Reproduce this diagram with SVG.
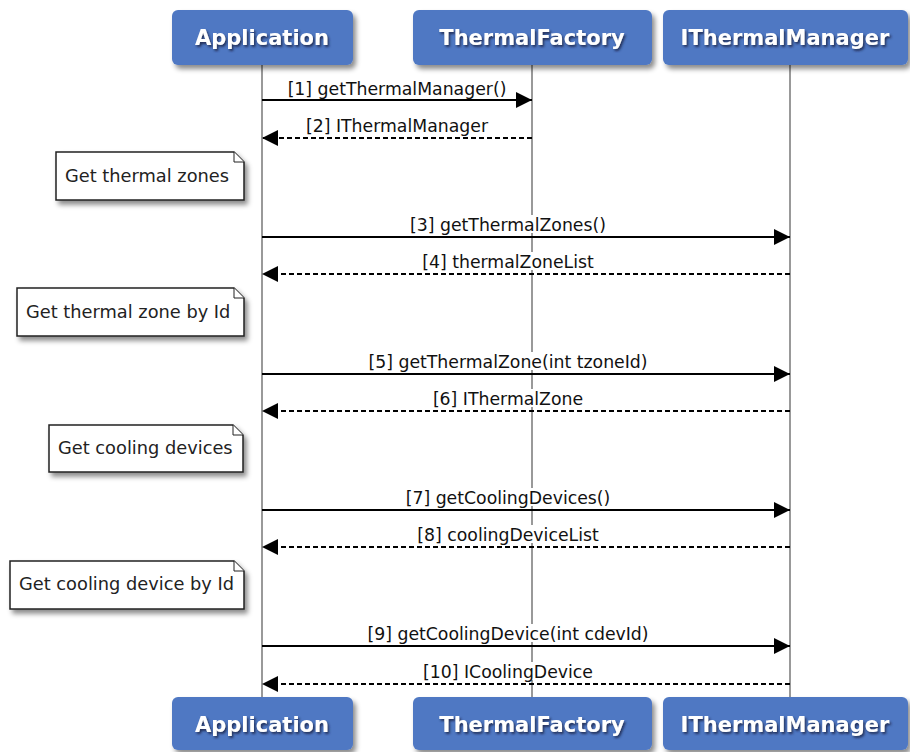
<svg xmlns="http://www.w3.org/2000/svg" width="910" height="752" viewBox="0 0 910 752">
<defs>
<filter id="sh" x="-10%" y="-10%" width="130%" height="140%"><feDropShadow dx="3" dy="4" stdDeviation="2.5" flood-color="#000" flood-opacity="0.45"/></filter>
<filter id="tsh" x="-10%" y="-30%" width="120%" height="170%"><feDropShadow dx="1.5" dy="2" stdDeviation="1.2" flood-color="#1a2a50" flood-opacity="0.9"/></filter>
<marker id="ah" markerWidth="16" markerHeight="16" viewBox="0 0 16 16" refX="16" refY="8" orient="auto" markerUnits="userSpaceOnUse"><path d="M0,0 L16,8 L0,16 Z" fill="#000"/></marker>
</defs>
<style>
.box{fill:#4f78c3;filter:url(#sh)}
.ht{font-family:"DejaVu Sans",sans-serif;font-weight:bold;font-size:21px;fill:#fff;text-anchor:middle;filter:url(#tsh)}
.life{stroke:#999;stroke-width:2}
.msg{stroke:#000;stroke-width:2;fill:none;marker-end:url(#ah)}
.ret{stroke:#000;stroke-width:2;fill:none;stroke-dasharray:5,3;marker-end:url(#ah)}
.lbl{font-family:"DejaVu Sans",sans-serif;font-size:17.3px;fill:#111;text-anchor:middle}
.bg{fill:#fff}
.note{fill:#fff;stroke:#222;stroke-width:1.5;filter:url(#sh)}
.ear{fill:#fff;stroke:#222;stroke-width:1}
.nt{font-family:"DejaVu Sans",sans-serif;font-size:17.8px;fill:#222}
</style>
<rect width="910" height="752" fill="#fff"/>
<g id="lifelines">
<line class="life" x1="262" y1="65" x2="262" y2="697"/>
<line class="life" x1="532" y1="65" x2="532" y2="697"/>
<line class="life" x1="790" y1="65" x2="790" y2="697"/>
</g>
<g id="app-top"><rect class="box" x="172" y="10" width="181" height="55" rx="6"/><text class="ht" x="262" y="45">Application</text></g>
<g id="tf-top"><rect class="box" x="413" y="10" width="239" height="55" rx="6"/><text class="ht" x="532" y="45">ThermalFactory</text></g>
<g id="itm-top"><rect class="box" x="663" y="10" width="245" height="55" rx="6"/><text class="ht" x="785" y="45">IThermalManager</text></g>
<g id="app-bot"><rect class="box" x="172" y="697" width="181" height="53" rx="6"/><text class="ht" x="262" y="732">Application</text></g>
<g id="tf-bot"><rect class="box" x="413" y="697" width="239" height="53" rx="6"/><text class="ht" x="532" y="732">ThermalFactory</text></g>
<g id="itm-bot"><rect class="box" x="663" y="697" width="245" height="53" rx="6"/><text class="ht" x="785" y="732">IThermalManager</text></g>
<g id="note1"><path class="note" d="M56,152 H234 L244,162 V200 H56 Z"/><path class="ear" d="M234,152 V162 H244"/><text class="nt" x="65" y="182">Get thermal zones</text></g>
<g id="note2"><path class="note" d="M17,288 H234 L244,298 V336 H17 Z"/><path class="ear" d="M234,288 V298 H244"/><text class="nt" x="26" y="318">Get thermal zone by Id</text></g>
<g id="note3"><path class="note" d="M49,425 H233 L243,435 V472 H49 Z"/><path class="ear" d="M233,425 V435 H243"/><text class="nt" x="58" y="454">Get cooling devices</text></g>
<g id="note4"><path class="note" d="M10,561 H234 L244,571 V609 H10 Z"/><path class="ear" d="M234,561 V571 H244"/><text class="nt" x="19" y="590">Get cooling device by Id</text></g>
<g id="connectors">
<line class="msg" x1="262" y1="100" x2="532" y2="100"/>
<text class="lbl" x="397" y="95">[1] getThermalManager()</text>
<line class="ret" x1="532" y1="138" x2="262" y2="138"/>
<text class="lbl" x="397" y="132">[2] IThermalManager</text>
<line class="msg" x1="262" y1="237" x2="790" y2="237"/>
<rect class="bg" x="525" y="215" width="14" height="18"/>
<text class="lbl" x="508" y="231">[3] getThermalZones()</text>
<line class="ret" x1="790" y1="274" x2="262" y2="274"/>
<rect class="bg" x="525" y="252" width="14" height="18"/>
<text class="lbl" x="508" y="268">[4] thermalZoneList</text>
<line class="msg" x1="262" y1="374" x2="790" y2="374"/>
<rect class="bg" x="525" y="352" width="14" height="18"/>
<text class="lbl" x="508" y="368">[5] getThermalZone(int tzoneId)</text>
<line class="ret" x1="790" y1="411" x2="262" y2="411"/>
<rect class="bg" x="525" y="389" width="14" height="18"/>
<text class="lbl" x="508" y="405">[6] IThermalZone</text>
<line class="msg" x1="262" y1="510" x2="790" y2="510"/>
<rect class="bg" x="525" y="488" width="14" height="18"/>
<text class="lbl" x="508" y="504">[7] getCoolingDevices()</text>
<line class="ret" x1="790" y1="547" x2="262" y2="547"/>
<rect class="bg" x="525" y="525" width="14" height="18"/>
<text class="lbl" x="508" y="541">[8] coolingDeviceList</text>
<line class="msg" x1="262" y1="646" x2="790" y2="646"/>
<rect class="bg" x="525" y="624" width="14" height="18"/>
<text class="lbl" x="508" y="640">[9] getCoolingDevice(int cdevId)</text>
<line class="ret" x1="790" y1="684" x2="262" y2="684"/>
<rect class="bg" x="525" y="662" width="14" height="18"/>
<text class="lbl" x="508" y="678">[10] ICoolingDevice</text>
</g>
</svg>
